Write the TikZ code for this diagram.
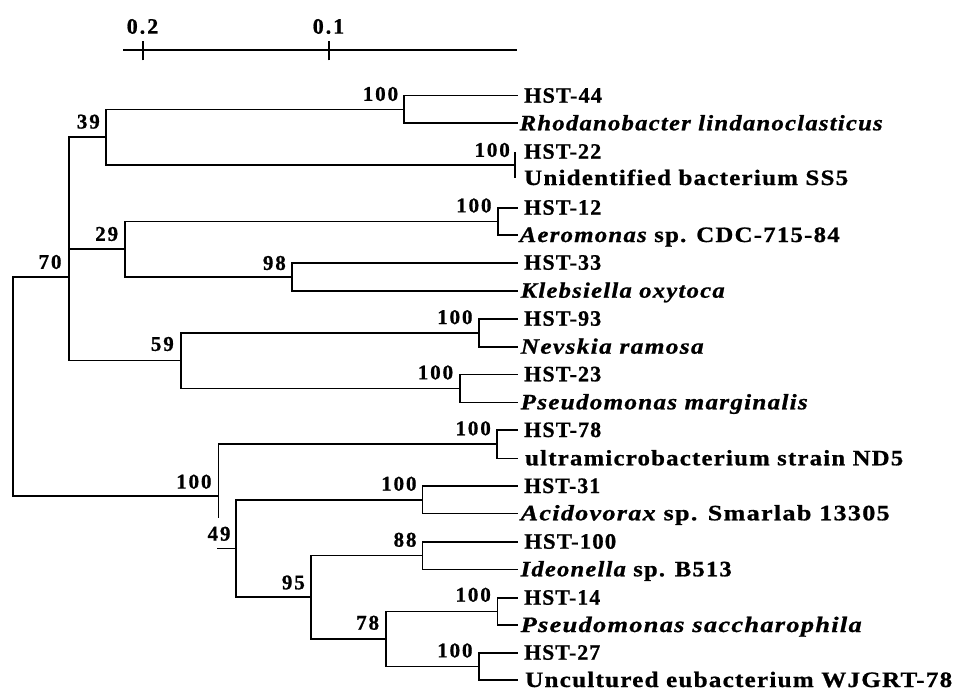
\documentclass[tikz,border=0pt]{standalone}
\usepackage{graphicx}
\usepackage{fontspec}
\setmainfont{Liberation Serif}
\newfontfamily\treefont{Liberation Serif}[LetterSpace=5,BoldFeatures={FakeBold=0.8},BoldItalicFeatures={FakeBold=0.8}]
\newfontfamily\numfont{Liberation Serif}[LetterSpace=9,BoldFeatures={FakeBold=0.8}]
\begin{document}
\begin{tikzpicture}[x=1pt,y=-1pt,
  branch/.style={line width=1.6pt},
  leaflab/.style={inner sep=0pt,anchor=base west,font=\treefont\bfseries\fontsize{22}{26}\selectfont},
  bootlab/.style={inner sep=0pt,anchor=east,font=\numfont\bfseries\fontsize{21}{24}\selectfont},
  scalelab/.style={inner sep=0pt,font=\numfont\bfseries\fontsize{22}{26}\selectfont}]
\useasboundingbox (0,0) rectangle (955,690);
\fill[white] (0,0) rectangle (955,690);
% scale bar
\coordinate (sbL) at (123.3,50);
\coordinate (sbR) at (516.7,50);
\coordinate (t2) at (142.7,50);
\coordinate (t1) at (329,50);
\draw[branch] (sbL) -- (sbR);
\draw[branch] ([yshift=-10.5pt]t2) -- ([yshift=8.5pt]t2);
\draw[branch] ([yshift=-10.5pt]t1) -- ([yshift=8.5pt]t1);
\node[scalelab] (l2) at (142.5,26.5) {0.2};
\node[scalelab] (l1) at (328.5,26.5) {0.1};
% leaves: name, line end x, y, text start x, text width, text
\newcommand\lf[6]{\coordinate (#1) at (#2,#3);
  \node[leaflab] (#1t) at (#4,#3+7) {\resizebox{#5pt}{\height}{#6}};}
\lf{L1}{518}{95.7}{524}{77.7}{HST-44}
\lf{L2}{518}{123.3}{519.5}{363}{\itshape Rhodanobacter lindanoclasticus}
\lf{L3}{515}{151.7}{524}{77}{HST-22}
\lf{L4}{515}{178}{524}{324}{Unidentified bacterium SS5}
\lf{L5}{518}{207.7}{524}{77}{HST-12}
\lf{L6}{518}{235}{519.5}{320}{\itshape Aeromonas\upshape{} sp. CDC-715-84}
\lf{L7}{518}{262.7}{524}{77}{HST-33}
\lf{L8}{518}{290.7}{520.5}{204}{\itshape Klebsiella oxytoca}
\lf{L9}{518}{318.7}{524}{77}{HST-93}
\lf{L10}{518}{346.7}{520.5}{183}{\itshape Nevskia ramosa}
\lf{L11}{518}{374.3}{524}{77}{HST-23}
\lf{L12}{518}{402.3}{520.5}{287}{\itshape Pseudomonas marginalis}
\lf{L13}{518}{430}{524}{77}{HST-78}
\lf{L14}{518}{458.3}{525}{378}{ultramicrobacterium strain ND5}
\lf{L15}{518}{486}{524}{76}{HST-31}
\lf{L16}{518}{513.3}{520.5}{369}{\itshape Acidovorax\upshape{} sp. Smarlab 13305}
\lf{L17}{518}{541.7}{524}{92}{HST-100}
\lf{L18}{518}{569.3}{520.5}{211}{\itshape Ideonella\upshape{} sp. B513}
\lf{L19}{518}{597.7}{524}{76}{HST-14}
\lf{L20}{518}{625}{520.5}{341}{\itshape Pseudomonas saccharophila}
\lf{L21}{518}{652.7}{524}{76}{HST-27}
\lf{L22}{518}{680}{525}{427}{Uncultured eubacterium WJGRT-78}
% internal nodes
\coordinate (a) at (404,109.5);
\coordinate (b) at (515,164.8);
\coordinate (c) at (106,137);
\coordinate (d) at (497.7,221.4);
\coordinate (e) at (292,276.7);
\coordinate (f) at (124.7,249);
\coordinate (g) at (479,332.7);
\coordinate (h) at (460,388.3);
\coordinate (i) at (181,360.5);
\coordinate (j) at (69,277);
\coordinate (k) at (496.7,444.2);
\coordinate (l) at (422.3,499.7);
\coordinate (m) at (422.3,555.5);
\coordinate (n) at (497.3,611.4);
\coordinate (o) at (479,666.4);
\coordinate (p) at (385.7,639);
\coordinate (q) at (310.7,597);
\coordinate (r) at (236,548.3);
\coordinate (s) at (218.3,496);
\coordinate (root) at (12.7,386.5);
\coordinate (sgap) at (218.3,518);
% branches
\draw[branch] (a) |- (L1); \draw[branch] (a) |- (L2);
\draw[branch] (b) |- (L3); \draw[branch] (b) |- (L4);
\draw[branch] (c) |- (a);  \draw[branch] (c) |- (b);
\draw[branch] (d) |- (L5); \draw[branch] (d) |- (L6);
\draw[branch] (e) |- (L7); \draw[branch] (e) |- (L8);
\draw[branch] (f) |- (d);  \draw[branch] (f) |- (e);
\draw[branch] (g) |- (L9); \draw[branch] (g) |- (L10);
\draw[branch] (h) |- (L11); \draw[branch] (h) |- (L12);
\draw[branch] (i) |- (g);  \draw[branch] (i) |- (h);
\draw[branch] (j) |- (c);  \draw[branch] (j) |- (f); \draw[branch] (j) |- (i);
\draw[branch] (k) |- (L13); \draw[branch] (k) |- (L14);
\draw[branch] (l) |- (L15); \draw[branch] (l) |- (L16);
\draw[branch] (m) |- (L17); \draw[branch] (m) |- (L18);
\draw[branch] (n) |- (L19); \draw[branch] (n) |- (L20);
\draw[branch] (o) |- (L21); \draw[branch] (o) |- (L22);
\draw[branch] (p) |- (n);  \draw[branch] (p) |- (o);
\draw[branch] (q) |- (m);  \draw[branch] (q) |- (p);
\draw[branch] (r) |- (l);  \draw[branch] (r) |- (q);
\draw[branch] (s) |- (k);  \draw[branch] (s) -- (sgap);
\draw[branch] ([xshift=-1.3pt]s |- r) -- (r);
\draw[branch] (root) |- (j); \draw[branch] (root) |- (s);
% bootstrap values
\node[bootlab] (ba) at (398.3,94) {100};
\node[bootlab] (bb) at (510,150) {100};
\node[bootlab] (bc) at (100,121.7) {39};
\node[bootlab] (bd) at (491.7,205.5) {100};
\node[bootlab] (bf) at (118.3,234) {29};
\node[bootlab] (bj) at (61.7,262) {70};
\node[bootlab] (be) at (286,263) {98};
\node[bootlab] (bg) at (472.7,317.2) {100};
\node[bootlab] (bi) at (174,344) {59};
\node[bootlab] (bh) at (453.3,372.5) {100};
\node[bootlab] (bk) at (491,428.4) {100};
\node[bootlab] (bs) at (211.7,481.7) {100};
\node[bootlab] (bl) at (416.7,483.8) {100};
\node[bootlab] (br) at (230.7,533.8) {49};
\node[bootlab] (bm) at (416.7,539.8) {88};
\node[bootlab] (bq) at (305,582.5) {95};
\node[bootlab] (bn) at (491,594.8) {100};
\node[bootlab] (bp) at (379.3,622.8) {78};
\node[bootlab] (bo) at (472.7,650.5) {100};
\end{tikzpicture}
\end{document}
